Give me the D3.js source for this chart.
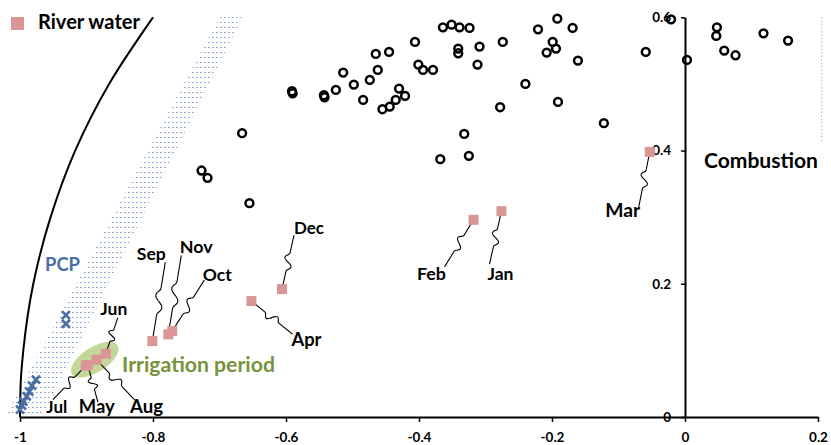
<!DOCTYPE html>
<html>
<head>
<meta charset="utf-8">
<script src="https://cdn.jsdelivr.net/npm/d3@7"></script>
<style>
  body { margin: 0; background: #fff; }
  svg { display: block; }
  text { font-family: Lato, "Open Sans", sans-serif; font-weight: 700; }
</style>
</head>
<body>
<svg id="chart" width="831" height="445"></svg>
<script>
// ---------------- DATA ----------------
const months = ["Jan","Feb","Mar","Apr","May","Jun","Jul","Aug","Sep","Oct","Nov","Dec"];
const riverX = [-0.276, -0.318, -0.053, -0.652, -0.898, -0.871, -0.901, -0.885, -0.801, -0.771, -0.777, -0.606];
const riverY = [ 0.309,  0.296,  0.398,  0.174,  0.078,  0.095,  0.077,  0.086,  0.114,  0.129,  0.124,  0.192];

const combustionX = [-0.591,-0.590,-0.543,-0.542,-0.525,-0.514,-0.498,-0.484,-0.474,-0.465,-0.462,-0.445,
  -0.455,-0.444,-0.435,-0.430,-0.421,-0.406,-0.401,-0.394,-0.379,-0.364,-0.351,-0.339,-0.324,-0.341,-0.341,
  -0.309,-0.312,-0.274,-0.278,-0.240,-0.221,-0.192,-0.169,-0.199,-0.194,-0.208,-0.161,-0.191,-0.122,-0.059,
  -0.666,-0.655,-0.727,-0.718,-0.332,-0.368,-0.325,-0.021,0.003,0.048,0.047,0.059,0.076,0.118,0.155];
const combustionY = [0.489,0.486,0.483,0.480,0.491,0.517,0.499,0.476,0.506,0.545,0.521,0.548,
  0.462,0.466,0.476,0.493,0.482,0.563,0.529,0.521,0.521,0.585,0.589,0.585,0.584,0.553,0.546,
  0.556,0.529,0.563,0.465,0.500,0.582,0.598,0.584,0.563,0.553,0.547,0.535,0.473,0.441,0.548,
  0.426,0.321,0.370,0.359,0.425,0.387,0.392,0.597,0.536,0.585,0.572,0.550,0.543,0.576,0.565];

const pcpX = [-0.931,-0.931,-0.976,-0.982,-0.986,-0.990,-0.995,-0.997,-1.000];
const pcpY = [ 0.153, 0.140, 0.056, 0.047, 0.038, 0.031, 0.023, 0.017, 0.011];

// reference curve
const curveX = [-1.000,-0.999,-0.995,-0.980,-0.954,-0.917,-0.866,-0.800];
const curveY = [ 0.000, 0.050, 0.100, 0.200, 0.300, 0.400, 0.500, 0.600];

// PCP field (band) corners
const bandX = [-1.020,-0.700,-0.665,-0.965];
const bandY = [ 0.005, 0.600, 0.600, 0.005];

const xTicks = [-1,-0.8,-0.6,-0.4,-0.2,0,0.2];
const xTickLabels = ["-1","-0.8","-0.6","-0.4","-0.2","0","0.2"];
const yTicks = [0,0.2,0.4,0.6];
const yTickLabels = ["0","0.2","0.4","0.6"];

// ---------------- LAYOUT ----------------
const x = d3.scaleLinear().domain([-1, 0.2]).range([20, 818]);
const y = d3.scaleLinear().domain([0, 0.6]).range([417, 17.3]);

// label placement offsets (px) relative to each month's square: text centre/baseline, leader end
const labelLayout = {
  Jan: {lx:-1,  ly:69,  ex:-12, ey:53},
  Feb: {lx:-42, ly:60,  ex:-29, ey:47},
  Mar: {lx:-27, ly:65,  ex:-11, ey:55},
  Apr: {lx:55,  ly:45,  ex:41,  ey:33},
  May: {lx:9,   ly:48,  ex:10,  ey:37},
  Jun: {lx:8,   ly:-39, ex:12,  ey:-36},
  Jul: {lx:-29, ly:47,  ex:-33, ey:34},
  Aug: {lx:50,  ly:53,  ex:38,  ey:40},
  Sep: {lx:-1,  ly:-81, ex:13,  ey:-79},
  Oct: {lx:45,  ly:-50, ex:32,  ey:-51},
  Nov: {lx:28,  ly:-81, ex:13,  ey:-79},
  Dec: {lx:27,  ly:-55, ex:12,  ey:-54}
};
const monthTargetW = {Jan:26,Feb:29,Mar:35,Apr:30,May:36,Jun:27,Jul:21,Aug:33,Sep:29,Oct:29,Nov:33,Dec:30};

const pink = "#d99694", blue = "#4a6da3", green = "#77933c";

const svg = d3.select("#chart");

function squeeze(sel, target) {
  const w = sel.node().getComputedTextLength();
  if (w > target) sel.attr("textLength", target).attr("lengthAdjust", "spacingAndGlyphs");
  else {
    const fs = parseFloat(sel.attr("font-size"));
    sel.attr("font-size", (fs * target / w).toFixed(2));
  }
}

// pattern for PCP band
const defs = svg.append("defs");
const pat = defs.append("pattern").attr("id","dots").attr("patternUnits","userSpaceOnUse")
  .attr("width",4).attr("height",5);
pat.append("rect").attr("x",0).attr("y",2).attr("width",1.6).attr("height",1).attr("fill","#7f9ccc");

// band
const band = bandX.map((d,i)=>[x(d), y(bandY[i])]);
svg.append("path").attr("d", "M" + band.join("L") + "Z").attr("fill","url(#dots)");

// dotted right boundary
svg.append("line").attr("x1", x(0.2055)).attr("x2", x(0.2055)).attr("y1", y(0.6)).attr("y2", y(0.413))
  .attr("stroke","#9a9a9a").attr("stroke-width",1).attr("stroke-dasharray","1,2.5");

// reference curve
const curvePts = curveX.map((d,i)=>[d, curveY[i]]);
svg.append("path").datum(curvePts)
  .attr("d", d3.line().x(d=>x(d[0])).y(d=>y(d[1])).curve(d3.curveMonotoneY))
  .attr("fill","none").attr("stroke","#000").attr("stroke-width",2);

// axes
const xAxis = svg.append("g").attr("transform", `translate(0,${y(0)})`)
  .call(d3.axisBottom(x).tickValues(xTicks).tickFormat((d,i)=>xTickLabels[i]).tickSize(5).tickSizeOuter(0).tickPadding(10));
const yAxis = svg.append("g").attr("transform", `translate(${x(0)},0)`)
  .call(d3.axisLeft(y).tickValues(yTicks).tickFormat((d,i)=>yTickLabels[i]).tickSize(4).tickSizeOuter(0).tickPadding(10));
[xAxis, yAxis].forEach(g=>{
  g.select(".domain").attr("stroke","#000").attr("stroke-width",2);
  g.selectAll(".tick line").attr("stroke","#000").attr("stroke-width",1.5);
  g.selectAll(".tick text").attr("font-family","Lato, sans-serif").attr("font-weight",700)
    .attr("font-size",13.5).attr("fill","#000");
});

// combustion circles
svg.append("g").selectAll("circle").data(combustionX.map((d,i)=>[d, combustionY[i]])).join("circle")
  .attr("cx", d=>x(d[0])).attr("cy", d=>y(d[1])).attr("r", 3.9)
  .attr("fill","none").attr("stroke","#000").attr("stroke-width",2.5);

// PCP crosses
const crossG = svg.append("g");
pcpX.forEach((d,i)=>{
  const cx = x(d), cy = y(pcpY[i]), s = 4;
  crossG.append("path").attr("d", `M${cx-s},${cy-s}L${cx+s},${cy+s}M${cx-s},${cy+s}L${cx+s},${cy-s}`)
    .attr("stroke", blue).attr("stroke-width",2.6).attr("fill","none");
});

// irrigation ellipse
const irrCx = (x(riverX[6]) + x(riverX[5]))/2 - 1, irrCy = (y(riverY[6]) + y(riverY[5]))/2;
svg.append("ellipse").attr("cx", irrCx).attr("cy", irrCy).attr("rx", 27).attr("ry", 12.5)
  .attr("transform", `rotate(-32,${irrCx},${irrCy})`).attr("fill","#c4d79b");

// leader lines
const leaderG = svg.append("g");
function wiggle(x0,y0,x1,y1){
  const dx=x1-x0, dy=y1-y0, L=Math.hypot(dx,dy), nx=-dy/L, ny=dx/L;
  const pts=[];
  for(let k=0;k<=40;k++){
    const t=k/40;
    let off=0;
    if(t>0.35 && t<0.65) off = 4.2*Math.sin(2*Math.PI*(t-0.35)/0.3);
    pts.push([x0+dx*t+nx*off, y0+dy*t+ny*off]);
  }
  return d3.line().curve(d3.curveBasis)(pts);
}
months.forEach((m,i)=>{
  const px = x(riverX[i]), py = y(riverY[i]), L = labelLayout[m];
  leaderG.append("path").attr("d", wiggle(px,py,px+L.ex,py+L.ey))
    .attr("fill","none").attr("stroke","#000").attr("stroke-width",1.1);
});

// river squares
svg.append("g").selectAll("rect").data(months.map((m,i)=>[riverX[i], riverY[i]])).join("rect")
  .attr("x", d=>x(d[0])-5).attr("y", d=>y(d[1])-5).attr("width",10).attr("height",10).attr("fill",pink);

// month labels
months.forEach((m,i)=>{
  const px = x(riverX[i]), py = y(riverY[i]), L = labelLayout[m];
  const t = svg.append("text").attr("x", px+L.lx).attr("y", py+L.ly).attr("text-anchor","middle")
    .attr("font-size",17.5).attr("fill","#000").text(m);
  squeeze(t, monthTargetW[m]);
});

// annotations
squeeze(svg.append("text").attr("x",45).attr("y",270.5).attr("font-size",19.5).attr("fill",blue).text("PCP"), 35);
squeeze(svg.append("text").attr("x",122).attr("y",372).attr("font-size",21).attr("fill",green).text("Irrigation period"), 153);
squeeze(svg.append("text").attr("x",704).attr("y",168.3).attr("font-size",20).attr("fill","#000").text("Combustion"), 114);

// legend
svg.append("rect").attr("x",11).attr("y",17).attr("width",13).attr("height",13).attr("fill",pink);
squeeze(svg.append("text").attr("x",38).attr("y",29).attr("font-size",19.5).attr("fill","#000").text("River water"), 102);
</script>
</body>
</html>
